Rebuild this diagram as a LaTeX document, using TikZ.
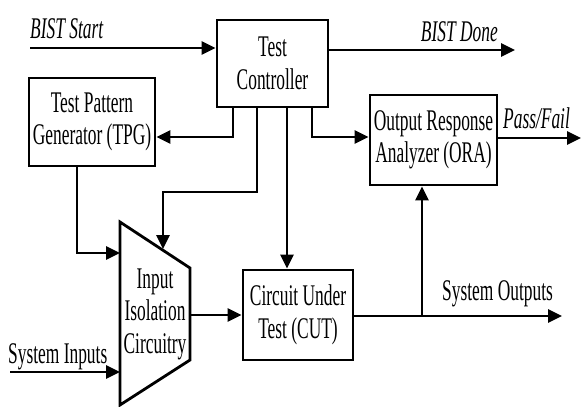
\documentclass[tikz,border=0pt]{standalone}
\usepackage{fontspec}
\setmainfont{Liberation Serif}[FakeStretch=0.58]
\usetikzlibrary{arrows.meta}
\tikzset{
  blk/.style={draw, line width=2.8pt, inner sep=0pt, align=center, font=\fontsize{30}{32.5}\selectfont},
  arr/.style={line width=2.8pt, -{Triangle[length=14pt,width=13pt]}},
  wire/.style={line width=2.8pt},
  lbl/.style={inner sep=0pt, font=\fontsize{30}{32.5}\selectfont},
  ilbl/.style={inner sep=0pt, font=\fontsize{30}{32.5}\selectfont\itshape},
}
\begin{document}
\begin{tikzpicture}[x=1pt,y=-1pt]
\useasboundingbox (0,0) rectangle (582,407);
% blocks
\node[blk, minimum width=111pt, minimum height=87pt] (tc) at (272.5,63.5) {Test\\Controller};
\node[blk, minimum width=126pt, minimum height=88pt] (tpg) at (92,122) {Test Pattern\\Generator (TPG)};
\node[blk, minimum width=127pt, minimum height=90pt] (ora) at (433.5,140) {Output Response\\Analyzer (ORA)};
\node[blk, minimum width=110pt, minimum height=90pt] (cut) at (298,315) {Circuit Under\\Test (CUT)};
% isolation trapezoid
\coordinate (i1) at (120,222);
\coordinate (i2) at (190,268);
\coordinate (i3) at (190,360);
\coordinate (i4) at (120,405);
\draw[wire, line join=miter] (i1) -- (i2) -- (i3) -- (i4) -- cycle;
\node[lbl, align=center] (iso) at (155,314) {Input\\Isolation\\Circuitry};
% coordinates
\coordinate (bs) at (30,48);
\coordinate (bd) at (515,50);
\coordinate (t1) at (233,137);
\coordinate (t2) at (257,192);
\coordinate (t2b) at (163,192);
\coordinate (isotop) at (163,249);
\coordinate (t3) at (287,0);
\coordinate (t4) at (312,137);
\coordinate (pf) at (581,138);
\coordinate (p) at (77,253);
\coordinate (isol) at (120,253);
\coordinate (si) at (10,372);
\coordinate (sil) at (120,372);
\coordinate (isor) at (190,315);
\coordinate (so) at (562,316);
\coordinate (br) at (422,316);
% connectors
\draw[arr] (bs) -- (bs -| tc.west);
\draw[arr] (tc.east |- bd) -- (bd);
\draw[arr] (tc.south -| t1) -- (t1) -- (t1 -| tpg.east);
\draw[arr] (tc.south -| t2) -- (t2) -- (t2b) -- (isotop);
\draw[arr] (tc.south -| t3) -- (cut.north -| t3);
\draw[arr] (tc.south -| t4) -- (t4) -- (t4 -| ora.west);
\draw[arr] (ora.east |- pf) -- (pf);
\draw[arr] (tpg.south -| p) -- (p) -- (isol);
\draw[arr] (si) -- (sil);
\draw[arr] (isor) -- (isor -| cut.west);
\draw[arr] (cut.east |- so) -- (so);
\draw[arr] (br) -- (ora.south -| br);
% labels
\node[ilbl, anchor=base west] (lbs) at (30,38) {BIST Start};
\node[ilbl, anchor=base east] (lbd) at (498,41) {BIST Done};
\node[ilbl, anchor=base west] (lpf) at (503,128) {Pass/Fail};
\node[lbl, anchor=base west] (lsi) at (8,363) {System Inputs};
\node[lbl, anchor=base west] (lso) at (442,300) {System Outputs};
\end{tikzpicture}
\end{document}
